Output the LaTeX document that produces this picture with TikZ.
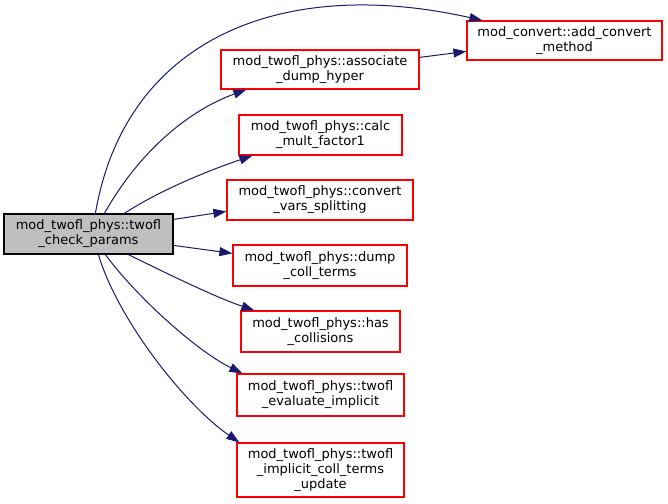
\documentclass[tikz,border=0pt]{standalone}
\usepackage{fontspec}
\setmainfont{DejaVu Sans}
\usetikzlibrary{arrows.meta,calc}
\definecolor{edgeblue}{HTML}{191970}
\definecolor{rootgray}{HTML}{BFBFBF}
\tikzset{
  fn/.style={draw=red, line width=1.2pt, align=center, inner sep=0pt,
    font=\fontsize{13}{15}\selectfont},
  rootbox/.style={fn, draw=black, fill=rootgray},
  call/.style={draw=edgeblue, line width=1pt, -{Triangle[length=13pt,width=9pt]}},
}
\begin{document}
\begin{tikzpicture}[x=1pt,y=-1pt]
\useasboundingbox (0,0) rectangle (668,503);
\node[rootbox, minimum width=169pt, minimum height=40pt] (root) at (88.5,234) {mod\_twofl\_phys::twofl\\\_check\_params};
\node[fn, minimum width=195pt, minimum height=39pt] (conv) at (564.5,40.5) {mod\_convert::add\_convert\\\_method};
\node[fn, minimum width=198pt, minimum height=39pt] (assoc) at (320,69.5) {mod\_twofl\_phys::associate\\\_dump\_hyper};
\node[fn, minimum width=163pt, minimum height=40pt] (calc) at (320.5,135) {mod\_twofl\_phys::calc\\\_mult\_factor1};
\node[fn, minimum width=186pt, minimum height=40pt] (cvs) at (320,200) {mod\_twofl\_phys::convert\\\_vars\_splitting};
\node[fn, minimum width=174pt, minimum height=41pt] (dump) at (320,265.5) {mod\_twofl\_phys::dump\\\_coll\_terms};
\node[fn, minimum width=159pt, minimum height=41pt] (has) at (320.5,331.5) {mod\_twofl\_phys::has\\\_collisions};
\node[fn, minimum width=167pt, minimum height=42pt] (eval) at (320.5,395) {mod\_twofl\_phys::twofl\\\_evaluate\_implicit};
\node[fn, minimum width=167pt, minimum height=54pt] (upd) at (320.5,470) {mod\_twofl\_phys::twofl\\\_implicit\_coll\_terms\\\_update};

\draw[call] ($(root.north west)+(92,0)$) .. controls (125,40) and (280,-25) .. ($(conv.north west)+(16,0)$);
\draw[call] ($(root.north west)+(101,0)$) .. controls (140,150) and (190,110) .. ($(assoc.south west)+(26,0)$);
\draw[call] ($(root.north west)+(121,0)$) .. controls (160,190) and (210,170) .. ($(calc.south west)+(14,0)$);
\draw[call] ($(root.north east)+(0,6)$) -- ($(cvs.north west)+(0,32)$);
\draw[call] ($(root.north east)+(0,32)$) -- ($(dump.north west)+(0,9)$);
\draw[call] ($(root.south west)+(125,0)$) .. controls (170,275) and (215,297) .. ($(has.north west)+(14,0)$);
\draw[call] ($(root.south west)+(102,0)$) .. controls (135,295) and (195,350) .. ($(eval.north west)+(6,0)$);
\draw[call] ($(root.south west)+(95,0)$) .. controls (118,320) and (185,405) .. ($(upd.north west)+(3,0)$);
\draw[call] ($(assoc.north east)+(0,8)$) -- ($(conv.north west)+(0,31)$);
\end{tikzpicture}
\end{document}
